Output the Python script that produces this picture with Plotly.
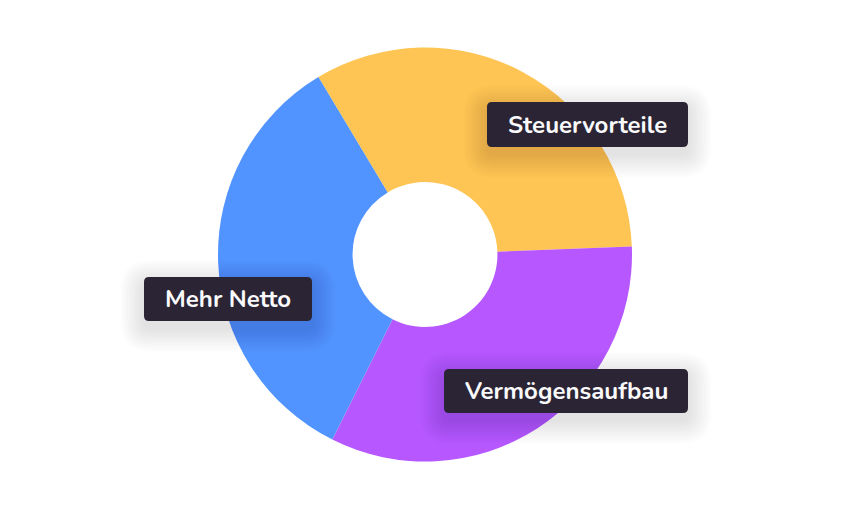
import plotly.graph_objects as go

# Share of each benefit in the overall picture
categories = ["Steuervorteile", "Vermögensaufbau", "Mehr Netto"]
shares = [33, 33, 34]
slice_colors = ["#FEC554", "#B657FF", "#5294FF"]

W, H = 850, 510

# Label boxes: (left, top, right, bottom) in pixels
label_boxes = {
    "Steuervorteile": (487, 102, 688, 147),
    "Vermögensaufbau": (444, 369, 688, 413),
    "Mehr Netto": (144, 277, 312, 321),
}


def px(x):
    return x / W


def py(y):
    return 1 - y / H


def rounded_rect(x0, y0, x1, y1, r):
    """SVG path (paper coords) of a rounded rectangle given in pixels."""
    pts = [
        f"M {px(x0 + r)} {py(y0)}",
        f"L {px(x1 - r)} {py(y0)}",
        f"Q {px(x1)} {py(y0)} {px(x1)} {py(y0 + r)}",
        f"L {px(x1)} {py(y1 - r)}",
        f"Q {px(x1)} {py(y1)} {px(x1 - r)} {py(y1)}",
        f"L {px(x0 + r)} {py(y1)}",
        f"Q {px(x0)} {py(y1)} {px(x0)} {py(y1 - r)}",
        f"L {px(x0)} {py(y0 + r)}",
        f"Q {px(x0)} {py(y0)} {px(x0 + r)} {py(y0)}",
        "Z",
    ]
    return " ".join(pts)


cx, cy, R = 425, 254.5, 207

fig = go.Figure(
    go.Pie(
        labels=categories,
        values=shares,
        hole=0.35,
        sort=False,
        direction="clockwise",
        rotation=-31,
        marker=dict(colors=slice_colors, line=dict(width=0)),
        textinfo="none",
        hoverinfo="label+percent",
        domain=dict(x=[px(cx - R), px(cx + R)], y=[py(cy + R), py(cy - R)]),
        showlegend=False,
    )
)

shapes = []
annotations = []
for name in categories:
    x0, y0, x1, y1 = label_boxes[name]
    # soft drop shadow built from stacked translucent boxes
    for k in range(1, 15):
        g = 1.7 * k
        shapes.append(
            dict(
                type="path",
                path=rounded_rect(x0 - g, y0 - g + 7, x1 + g, y1 + g + 7, 6 + g),
                xref="paper",
                yref="paper",
                fillcolor="rgba(0,0,0,0.0075)",
                line=dict(width=0),
                layer="above",
            )
        )
    shapes.append(
        dict(
            type="path",
            path=rounded_rect(x0, y0, x1, y1, 5),
            xref="paper",
            yref="paper",
            fillcolor="#2A2434",
            line=dict(width=0),
            layer="above",
        )
    )
    annotations.append(
        dict(
            text=name,
            x=px((x0 + x1) / 2),
            y=py((y0 + y1) / 2),
            xref="paper",
            yref="paper",
            xanchor="center",
            yanchor="middle",
            showarrow=False,
            font=dict(family="Nunito, Lato, sans-serif", size=24, color="#FAFAFC", weight=700),
        )
    )

fig.update_layout(
    width=W,
    height=H,
    margin=dict(l=0, r=0, t=0, b=0),
    paper_bgcolor="white",
    plot_bgcolor="white",
    shapes=shapes,
    annotations=annotations,
)

fig.write_html("out.html")
